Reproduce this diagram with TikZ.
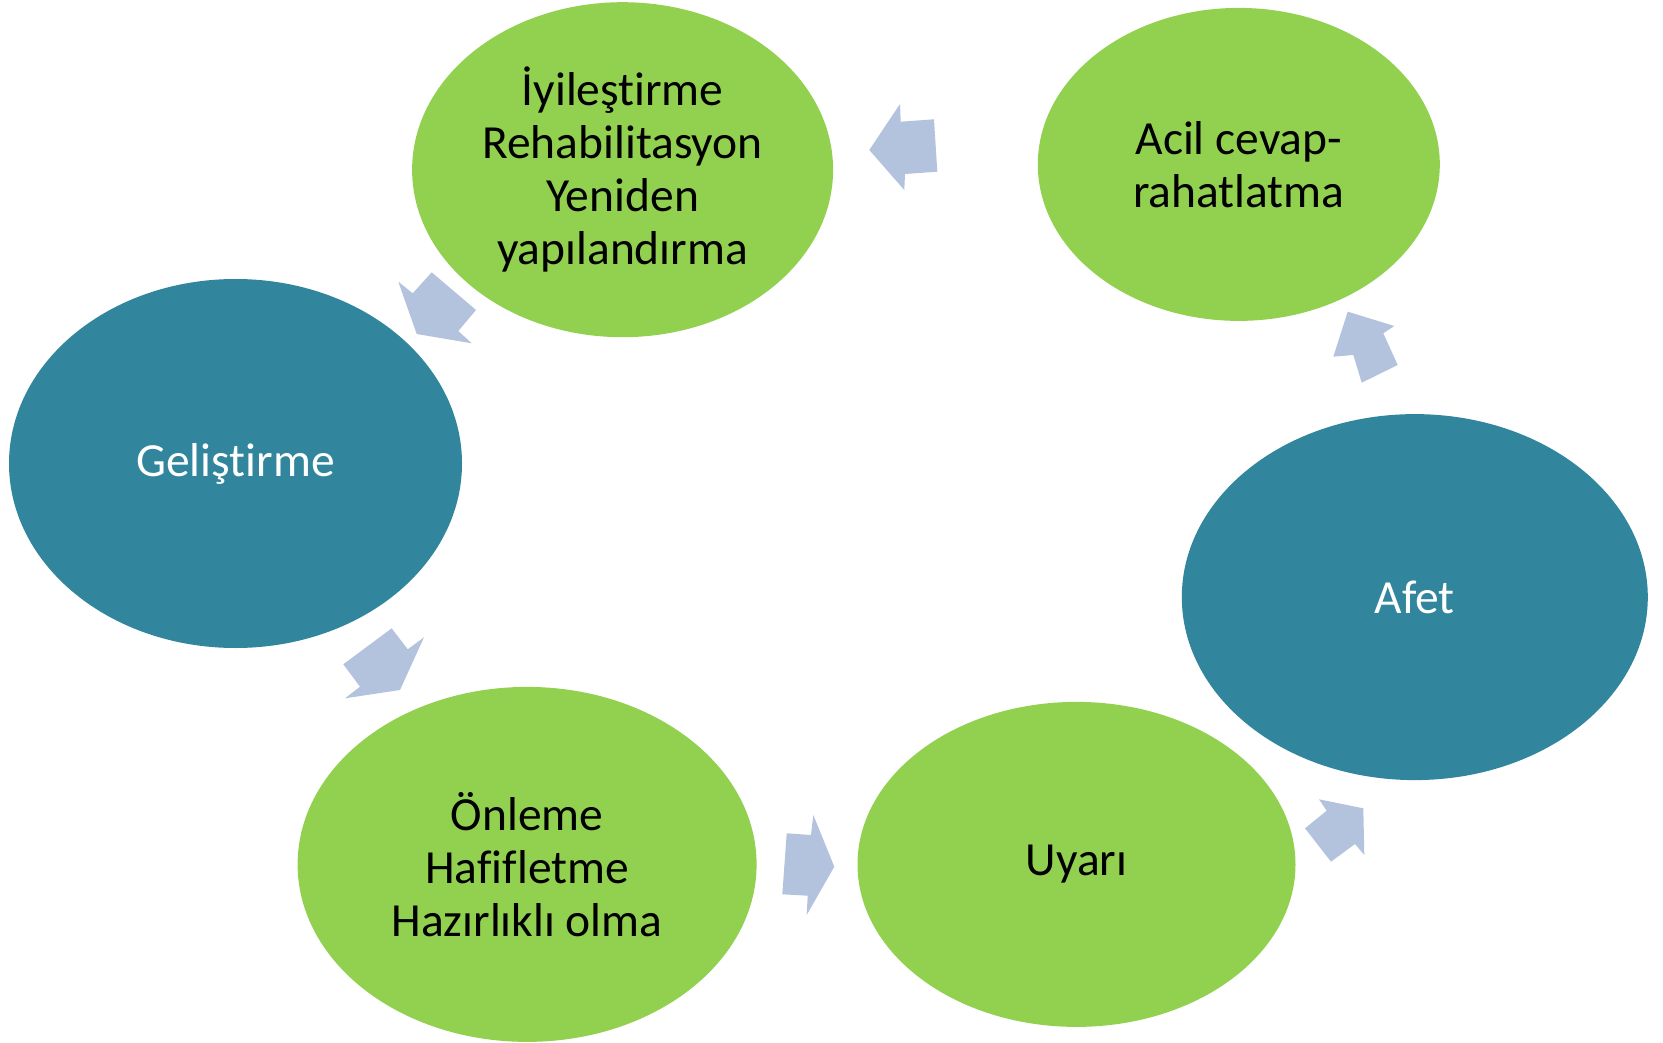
\documentclass[tikz,border=0pt]{standalone}
\usepackage{fontspec}
\setmainfont[Ligatures={NoCommon}]{Carlito}
\usetikzlibrary{shapes.geometric}
\definecolor{phasegreen}{HTML}{92D050}
\definecolor{phaseteal}{HTML}{31859C}
\definecolor{arrowblue}{HTML}{B3C3DE}
\tikzset{
  phase/.style={ellipse, inner sep=0pt, align=center, font=\fontsize{47.5}{53}\selectfont},
  greenphase/.style={phase, fill=phasegreen, text=black},
  tealphase/.style={phase, fill=phaseteal, text=white},
  flowarrow/.style={fill=arrowblue, draw=none}
}
\begin{document}
\begin{tikzpicture}[x=1pt,y=-1pt]
\useasboundingbox (0,0) rectangle (1663,1043);

% cycle phases
\node[greenphase, minimum width=421pt, minimum height=335pt] (iyi) at (622.6,169.7)
  {İyileştirme\\Rehabilitasyon\\Yeniden\\yapılandırma};
\node[greenphase, minimum width=402pt, minimum height=313pt] (acil) at (1238.8,164.4)
  {Acil cevap-\\rahatlatma};
\node[tealphase, minimum width=453pt, minimum height=369pt] (gel) at (235.5,463.5)
  {Geliştirme};
\node[tealphase, minimum width=466pt, minimum height=366pt] (afet) at (1414.8,597.1)
  {Afet};
\node[greenphase, minimum width=459pt, minimum height=355pt] (onl) at (527.1,864.4)
  {Önleme\\Hafifletme\\Hazırlıklı olma};
\node[greenphase, minimum width=438pt, minimum height=325pt] (uya) at (1076.5,864.4)
  {Uyarı};

% block arrows between the phases
% Acil cevap -> İyileştirme
\fill[flowarrow] (869.3,150) -- (900,104) -- (900.7,121.7) -- (934,119.3)
  -- (937.3,171.7) -- (905,174) -- (904.3,190) -- cycle;
% İyileştirme -> Geliştirme
\fill[flowarrow] (416.7,334) -- (398.3,281.7) -- (412.7,293.3) -- (431.7,272.3)
  -- (476,310) -- (458.3,331) -- (471.7,343.3) -- cycle;
% Geliştirme -> Önleme
\fill[flowarrow] (400,690) -- (424,637.3) -- (407.7,649.3) -- (391.7,628.3)
  -- (343.3,664.3) -- (360,686.7) -- (345,698.3) -- cycle;
% Önleme -> Uyarı
\fill[flowarrow] (834.3,866.7) -- (813.3,815) -- (811,835) -- (786.7,833.3)
  -- (782.3,894.3) -- (807.7,895.7) -- (806.7,915) -- cycle;
% Uyarı -> Afet
\fill[flowarrow] (1363.3,808.3) -- (1319,799.3) -- (1326.7,810.7) -- (1305,828.3)
  -- (1331,861.7) -- (1355,844) -- (1364.3,855) -- cycle;
% Afet -> Acil cevap
\fill[flowarrow] (1347.7,311.7) -- (1394.3,326) -- (1383.3,333.3) -- (1397.7,365)
  -- (1361.7,382.7) -- (1353.3,355) -- (1333.3,356.7) -- cycle;
\end{tikzpicture}
\end{document}
